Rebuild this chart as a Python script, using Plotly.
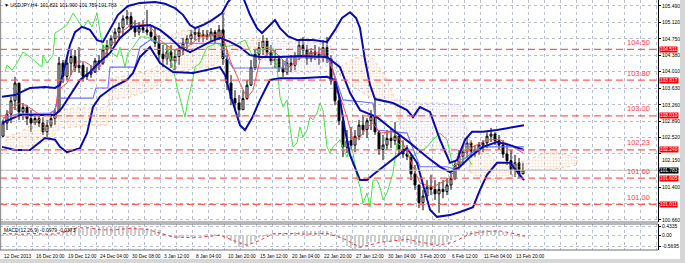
import plotly.graph_objects as go

# ---------------- data ----------------
symbol_title = "▼ USDJPY,H4  101.821 101.900 101.759 101.783"
macd_title = "MACD(12,26,9) -0.0979 -0.0373"

# candles: each entry = two H4 bars
open_ = [102.55,102.85,103.05,103.35,103.75,103.10,103.20,102.95,102.85,102.95,102.85,102.65,102.80,102.95,103.10,104.20,103.90,104.20,104.35,104.10,
         104.15,103.90,103.95,104.00,104.25,104.20,104.50,104.60,104.75,104.90,105.00,105.20,105.25,105.00,104.90,105.00,104.95,104.90,104.80,104.65,
         104.40,104.30,104.45,104.25,104.35,104.50,104.65,104.75,104.85,104.90,104.80,104.85,104.80,104.90,104.75,104.95,104.30,103.75,103.40,103.30,
         103.15,103.40,103.70,104.10,104.40,104.55,104.70,104.45,104.25,104.30,104.10,104.00,104.20,104.15,104.35,104.60,104.50,104.30,104.45,104.40,
         104.35,104.55,104.30,103.80,103.35,102.90,102.30,102.45,102.35,102.55,102.80,102.70,102.90,103.00,102.65,102.25,102.35,102.50,102.45,102.55,
         102.25,102.15,102.10,101.70,101.45,101.05,101.20,101.40,101.35,101.25,101.35,101.30,101.45,101.60,101.90,102.10,102.20,102.40,102.20,102.25,
         102.35,102.40,102.55,102.60,102.45,102.35,102.15,102.00,101.80,101.95,101.70]
high = [102.92,103.14,103.44,103.89,103.59,103.30,103.25,103.14,103.07,103.03,102.98,102.92,103.07,103.18,104.34,104.27,104.34,104.50,104.50,104.56,
        104.22,104.11,104.15,104.32,104.38,104.61,104.72,104.83,104.99,105.12,105.28,105.40,105.35,105.17,105.12,105.17,105.40,105.06,104.99,104.83,
        104.61,104.61,104.61,104.50,104.61,104.77,104.83,104.95,104.99,104.99,104.95,104.95,104.99,104.95,105.06,105.33,104.50,103.93,103.59,103.48,
        103.59,103.82,104.27,104.50,104.68,104.83,104.77,104.61,104.50,104.38,104.27,104.32,104.38,104.45,104.72,104.79,104.61,104.54,104.61,104.56,
        104.72,104.79,104.38,103.82,103.48,103.03,102.69,102.76,102.69,102.92,103.03,102.96,103.14,103.37,102.69,102.58,102.69,102.74,102.87,102.58,
        102.46,102.35,102.13,101.90,101.45,101.34,101.56,101.68,101.56,101.52,101.56,101.61,101.74,102.01,102.24,102.35,102.53,102.46,102.35,102.42,
        102.46,102.64,102.74,102.64,102.58,102.46,102.35,102.24,102.13,102.06,101.95]
low = [102.53,102.69,102.85,103.14,102.92,102.92,102.80,102.65,102.80,102.76,102.58,102.53,102.74,102.80,103.10,103.75,103.82,103.93,104.00,103.98,
       103.78,103.82,103.87,103.98,104.04,104.16,104.32,104.50,104.61,104.72,104.83,105.06,104.95,104.79,104.83,104.88,104.83,104.72,104.56,104.27,
       104.11,104.16,104.09,104.04,104.16,104.38,104.50,104.61,104.72,104.68,104.68,104.72,104.68,104.65,104.72,104.16,103.59,103.25,103.12,102.98,
       103.14,103.37,103.71,104.04,104.27,104.38,104.32,104.16,104.09,104.00,103.89,103.93,104.00,104.04,104.27,104.38,104.16,104.22,104.27,104.16,
       104.22,104.20,103.71,103.25,102.80,102.08,102.17,102.24,102.19,102.46,102.58,102.51,102.69,102.58,102.13,102.01,102.24,102.28,102.35,102.13,
       102.06,102.01,101.56,101.34,100.93,100.88,101.11,101.22,101.11,100.82,101.15,101.22,101.34,101.56,101.79,101.90,102.08,102.06,102.08,102.13,
       102.19,102.28,102.42,102.35,102.24,102.06,101.90,101.68,101.63,101.61,101.72]
close = [102.85,103.05,103.35,103.75,103.10,103.20,102.95,102.85,102.95,102.85,102.65,102.80,102.95,103.10,104.20,103.90,104.20,104.35,104.10,104.15,
         103.90,103.95,104.00,104.25,104.20,104.50,104.60,104.75,104.90,105.00,105.20,105.25,105.00,104.90,105.00,104.95,104.90,104.80,104.65,104.40,
         104.30,104.45,104.25,104.35,104.50,104.65,104.75,104.85,104.90,104.80,104.85,104.80,104.90,104.75,104.95,104.30,103.75,103.40,103.30,103.15,
         103.40,103.70,104.10,104.40,104.55,104.70,104.45,104.25,104.30,104.10,104.00,104.20,104.15,104.35,104.60,104.50,104.30,104.45,104.40,104.35,
         104.55,104.30,103.80,103.35,102.90,102.30,102.45,102.35,102.55,102.80,102.70,102.90,103.00,102.65,102.25,102.35,102.50,102.45,102.55,102.25,
         102.15,102.10,101.70,101.45,101.05,101.20,101.40,101.35,101.25,101.35,101.30,101.45,101.60,101.90,102.10,102.20,102.40,102.20,102.25,102.35,
         102.40,102.55,102.60,102.45,102.35,102.15,102.00,101.80,101.95,101.70,101.783]

# MACD main (histogram), one value per candle entry
macd_hist = [0.08,0.09,0.10,0.10,0.09,0.07,0.05,0.04,0.03,0.03,0.02,0.02,0.03,0.05,0.12,0.20,0.28,0.33,0.36,0.38,
             0.38,0.37,0.37,0.38,0.40,0.42,0.43,0.44,0.45,0.46,0.45,0.44,0.42,0.40,0.38,0.36,0.35,0.33,0.30,0.26,
             0.10,0.00,-0.08,-0.12,-0.15,-0.14,-0.12,-0.10,-0.06,-0.03,0.00,0.02,0.03,0.03,0.02,0.00,-0.15,-0.30,-0.45,-0.58,
             -0.62,-0.58,-0.45,-0.28,-0.15,-0.05,0.03,0.08,0.10,0.10,0.11,0.12,0.13,0.15,0.18,0.20,0.20,0.20,0.21,0.21,
             0.22,0.22,0.15,0.02,-0.15,-0.35,-0.55,-0.65,-0.68,-0.62,-0.52,-0.42,-0.34,-0.32,-0.33,-0.34,-0.33,-0.32,-0.30,-0.31,
             -0.33,-0.36,-0.42,-0.48,-0.54,-0.57,-0.56,-0.53,-0.50,-0.46,-0.40,-0.32,-0.22,-0.10,0.00,0.08,0.15,0.20,0.23,0.25,
             0.27,0.28,0.28,0.26,0.22,0.17,0.10,0.03,-0.03,-0.07,-0.0979]
signal_bar = [1.5,10,16.5,25,31.5,38.5,45,50,56.5,65,73.5,80,86.5,96.5,103.5,110,116.5,123.5,130,136.5,145,153.5,163.5,171.5,180,190,203.5,211.5,218.5,226.5,235,243.5,250,256.5,262.5]
signal_val = [0.10,0.05,0.10,0.05,0.15,0.38,0.38,0.28,0.27,0.35,0.30,0.10,-0.08,-0.12,-0.05,0.0,-0.25,-0.50,-0.25,0.08,0.10,0.06,0.10,-0.15,-0.60,-0.35,-0.20,-0.35,-0.50,-0.35,0.08,0.20,0.22,0.10,-0.0373]

# Bollinger bands (bar index, price)
bb_up_bar = [1,7.5,15,22.5,27.5,30,32.5,35,37.5,41,45,48.5,51.5,55,59,64,70,77.5,82.5,87.5,91.5,95,97.5,101.5,106,111,114,117.5,121.5,125,128.5,131,134,137.5,140,144,148.5,156.5,163.5,167.5,171,175,178,180,182.5,185,187.5,196.5,203.5,206.5,210,215,220,225,228.5,232.5,236,241.5,248.5,256.5,262]
bb_up = [103.44,103.48,103.64,103.66,103.64,103.71,104.16,104.61,104.90,105.02,104.95,104.72,104.68,104.95,105.29,105.49,105.56,105.58,105.54,105.44,105.29,105.06,104.99,105.06,105.17,105.33,105.58,105.76,105.69,105.29,104.99,104.88,105.02,105.17,104.99,104.81,104.72,104.72,104.68,104.95,105.22,105.35,105.22,104.99,104.27,103.71,103.39,103.30,103.14,102.98,103.21,103.10,102.47,101.95,102.01,102.47,102.65,102.65,102.69,102.76,102.80]
bb_mid_bar = [1,10,20,27.5,31,35,40,45,50,55,60,66.5,75,80,85,90,95,100,105,110,115,120,125,130,140,150,163.5,170,175,180,188.5,196.5,205,213.5,220,225,230,235,241.5,248.5,255,262]
bb_mid = [102.85,103.03,103.03,103.03,103.19,103.48,103.82,104.00,104.23,104.43,104.77,105.02,105.06,104.95,104.77,104.56,104.45,104.56,104.68,104.77,104.68,104.56,104.38,104.34,104.34,104.36,104.34,104.11,103.53,103.14,102.98,102.69,102.40,102.08,101.86,101.74,101.86,102.08,102.31,102.42,102.35,102.24]
bb_low_bar = [1,7.5,15,22.5,27.5,30,33.5,40,43.5,46.5,50,56.5,63.5,66.5,70,75,80,86.5,96.5,103.5,110,112.5,116,120,122.5,126,130,135,140,150,163.5,167.5,170,172.5,175,180,183.5,186.5,195,203.5,208.5,211.5,215,218.5,225,230,236.5,240,243.5,248.5,255,262]
bb_low = [102.31,102.24,102.24,102.51,102.47,102.31,102.19,102.28,102.62,103.21,103.44,103.66,103.82,103.98,104.34,104.56,104.20,104.00,103.98,104.04,104.11,103.93,103.37,102.80,102.69,102.96,103.37,103.82,103.86,103.86,103.89,103.82,103.37,102.69,102.13,101.56,101.56,101.68,101.97,102.28,101.95,101.45,100.89,100.73,100.77,100.84,100.95,101.34,101.68,101.95,101.95,101.56]

# Ichimoku: tenkan (red), kijun (light blue), chikou (green)
tenkan_bar = [1.5,5,10,15,20,25,27.5,29,33.5,38.5,42.5,46.5,50,53.5,56.5,60,66.5,73.5,76.5,80,86.5,93.5,100,106.5,111,115,120,123.5,126.5,130,136.5,140,145,148.5,155,161.5,165,168.5,173.5,176.5,180,183.5,186.5,190,196.5,201.5,206.5,210,216.5,220,223.5,226.5,230,236.5,243.5,250,256.5,261.5]
tenkan = [102.92,103.14,103.30,103.19,103.03,103.03,103.07,103.59,103.75,104.23,104.23,104.11,104.11,104.50,104.65,104.88,105.10,105.06,104.95,104.72,104.50,104.56,104.79,104.83,104.88,104.27,103.75,103.41,103.59,104.27,104.50,104.34,104.11,104.27,104.43,104.43,104.27,103.66,102.98,102.47,102.53,102.76,102.85,102.62,102.65,102.40,101.86,101.49,101.40,101.49,101.56,101.72,102.08,102.31,102.47,102.47,102.31,102.17]
kijun_bar = [1.5,10,25,27.5,29,46.5,48,54,55,67.5,70,75,80,110,112.5,116.5,141.5,143.5,163.5,166.5,171.5,186.5,188.5,203.5,210,223.5,228.5,231.5,240,262]
kijun = [102.96,103.07,103.07,103.14,103.41,103.41,103.64,103.64,104.11,104.11,104.56,104.72,104.65,104.65,104.38,104.09,104.09,104.32,104.32,104.04,103.37,103.30,102.69,102.62,101.86,101.86,101.79,102.01,102.31,102.31]
chikou_bar = [2.5,3.5,6,8.5,11.5,15,18.5,21,21.5,23.5,26.5,27.5,30,33.5,36.5,39,41.5,44,46,48.5,50,51.5,53.5,56,58.5,60,62.5,64,66.5,70,73.5,76.5,80,83.5,86.5,88.5,91,92.5,94,96,97.5,100,103.5,108.5,111,117.5,122.5,126,130,133.5,136.5,138.5,140,141.5,143.5,145,146.5,148.5,150,151.5,153.5,155,156.5,158.5,160,161.5,163.5,165,166.5,170,173.5,175,176.5,178.5,180,181.5,183.5,185,186.5,188.5,190,191.5,193.5,196.5,198.5,201.5,205,210,213.5,216.5,220,223.5,225,226.5,230,233.5,236]
chikou = [104.00,104.16,104.04,104.20,104.45,104.34,104.20,104.11,104.38,104.20,104.38,104.88,104.95,105.06,105.33,105.17,104.99,105.17,105.02,105.33,104.88,104.50,104.65,104.43,104.34,104.56,104.11,104.43,104.56,104.79,104.79,104.72,104.65,104.61,104.11,103.66,103.21,102.98,103.37,103.75,104.11,104.20,104.56,104.65,104.56,104.61,104.72,104.38,104.50,104.56,104.54,104.11,103.44,103.21,103.37,102.76,102.31,102.40,102.76,102.53,102.69,102.98,102.92,103.07,103.30,103.14,102.31,102.17,102.31,102.47,102.08,102.31,102.17,101.63,101.40,101.04,101.27,100.95,101.56,101.56,101.40,101.11,101.27,101.72,102.40,102.31,102.08,102.19,102.31,102.47,102.62,102.47,102.17,101.86,102.01,102.08,101.90]

# Ichimoku cloud (bar index, upper edge, lower edge, colour kind: o = sandy brown, t = thistle)
cloud_bar = [3,10,17.5,25,30,37.5,45,54,55,65,75,82.5,86,92.5,100,107.5,112.5,120,127.5,132.5,145,155,165,170,177.5,185,192.5,197.5,200,210,220,230,235,240,247.5,255,263.5,272.5,280,288.5]
cloud_hi = [102.53,102.64,102.85,103.10,103.14,103.19,103.19,103.21,103.86,103.93,104.04,104.23,104.84,104.95,104.90,104.77,104.72,104.68,104.72,104.72,104.68,104.68,104.61,104.11,104.32,104.38,103.93,103.37,103.37,103.30,103.30,103.26,102.47,102.24,102.01,101.90,102.01,102.17,102.17,102.06]
cloud_lo = [102.28,102.31,102.35,102.47,102.74,102.76,102.80,102.80,103.37,103.44,103.59,103.82,103.93,104.04,104.09,104.16,104.38,104.50,104.56,104.27,103.98,103.98,104.16,103.93,103.64,103.44,103.37,103.26,102.80,102.35,102.24,102.01,101.74,101.61,101.56,101.61,101.79,101.79,101.83,101.90]
cloud_kind = ["o"]*19 + ["t"]*4 + ["o"]*5 + ["t"]*4 + ["o"]*8

# horizontal levels and axis labels
level_vals = [104.511, 103.817, 103.010, 102.240, 101.605, 101.011]
level_text = ["104.50", "103.80", "103.00", "102.23", "101.60", "101.00"]
last_price = 101.783
price_ticks = [105.490,105.120,104.750,104.380,104.010,103.630,103.260,102.890,102.520,102.150,101.780,101.400,101.030,100.660]
hidden_ticks = [102.150, 101.780, 101.030]   # labels covered by the price boxes
macd_ticks = [0.4335, 0.0, -0.5695]
macd_tick_text = ["0.4335", "0.00", "-0.5695"]
date_labels = ["12 Dec 2013","16 Dec 20:00","19 Dec 12:00","24 Dec 04:00","30 Dec 08:00","3 Jan 12:00","8 Jan 04:00",
               "10 Jan 20:00","15 Jan 12:00","20 Jan 04:00","22 Jan 20:00","27 Jan 12:00","30 Jan 04:00","3 Feb 20:00",
               "6 Feb 12:00","11 Feb 04:00","13 Feb 20:00"]
date_label_bars = [16 * i for i in range(len(date_labels))]

# ---------------- figure ----------------
W, H = 685, 263
ML, MR, MT, MB = 0, 27, 0, 12
PH = H - MT - MB
main_dom = [(PH - 222) / PH, 1.0]
macd_dom = [(PH - 250) / PH, (PH - 224) / PH]
FONT = "Liberation Sans, Arial, sans-serif"

candle_bar = [1.5 + 2 * k for k in range(len(close))]

fig = go.Figure()

# cloud pieces
runs = []
start = 0
for i in range(1, len(cloud_kind) + 1):
    if i == len(cloud_kind) or cloud_kind[i] != cloud_kind[start]:
        runs.append((start, min(i + 1, len(cloud_kind)), cloud_kind[start]))
        start = i
for a, b, kind in runs:
    col = "#f7b98a" if kind == "o" else "#cfc0dc"
    xs = cloud_bar[a:b]
    if len(xs) < 2:
        continue
    px = xs + xs[::-1] + [xs[0]]
    py = cloud_hi[a:b] + cloud_lo[a:b][::-1] + [cloud_hi[a]]
    fig.add_trace(go.Scatter(x=px, y=py, mode="lines", fill="toself",
                             fillcolor="rgba(0,0,0,0)",
                             fillpattern=dict(shape=".", fgcolor=col, bgcolor="rgba(255,255,255,0)", size=3, solidity=0.3),
                             line=dict(color=col, width=0.8, dash="dot"),
                             hoverinfo="skip", xaxis="x", yaxis="y"))

fig.add_trace(go.Candlestick(x=candle_bar, open=open_, high=high, low=low, close=close,
                             increasing=dict(line=dict(color="#000000", width=1), fillcolor="#ffffff"),
                             decreasing=dict(line=dict(color="#000000", width=1), fillcolor="#000000"),
                             whiskerwidth=0, xaxis="x", yaxis="y", hoverinfo="skip"))

def add_line(xv, yv, color, width, dash="solid"):
    fig.add_trace(go.Scatter(x=xv, y=yv, mode="lines", line=dict(color=color, width=width, dash=dash),
                             hoverinfo="skip", xaxis="x", yaxis="y"))

add_line(chikou_bar, chikou, "#3ee83e", 1)
add_line(kijun_bar, kijun, "#6f6fff", 1.1)
add_line(tenkan_bar, tenkan, "#ff4a4a", 1)
add_line(bb_up_bar, bb_up, "#0a0ab4", 2)
add_line(bb_mid_bar, bb_mid, "#0a0ab4", 2)
add_line(bb_low_bar, bb_low, "#0a0ab4", 2)

# MACD
fig.add_trace(go.Bar(x=candle_bar, y=macd_hist, width=0.9, marker=dict(color="#cdcdcd", line=dict(width=0)),
                     xaxis="x2", yaxis="y2", hoverinfo="skip"))
fig.add_trace(go.Scatter(x=signal_bar, y=signal_val, mode="lines", line=dict(color="#ff3030", width=1, dash="dot"),
                         xaxis="x2", yaxis="y2", hoverinfo="skip"))

grid = dict(showgrid=True, gridcolor="#b9bfcc", griddash="dot", gridwidth=1)
xr = [0, 329]
fig.update_layout(
    width=W, height=H, margin=dict(l=ML, r=MR, t=MT, b=MB),
    paper_bgcolor="white", plot_bgcolor="white", showlegend=False,
    xaxis=dict(domain=[0, 1], range=xr, anchor="y", showticklabels=False, tickvals=list(range(0, 330, 8)),
               zeroline=False, rangeslider=dict(visible=False), **grid),
    xaxis2=dict(domain=[0, 1], range=xr, anchor="y2", matches="x", showticklabels=False,
                tickvals=list(range(0, 330, 8)), zeroline=False, **grid),
    yaxis=dict(domain=main_dom, range=[100.614, 105.625], side="right", anchor="x",
               tickvals=price_ticks, ticktext=["" if v in hidden_ticks else "%.3f" % v for v in price_ticks],
               tickfont=dict(size=5, color="#000000", family=FONT), ticks="outside", ticklen=2, tickcolor="#000",
               showline=True, linecolor="#000000", linewidth=1, zeroline=False, **grid),
    yaxis2=dict(domain=macd_dom, range=[-0.735, 0.57], side="right", anchor="x2",
                tickvals=macd_ticks, ticktext=macd_tick_text,
                tickfont=dict(size=5, color="#000000", family=FONT), ticks="outside", ticklen=2, tickcolor="#000",
                showline=True, linecolor="#000000", linewidth=1, zeroline=False, **grid),
    bargap=0,
)

shapes = []
for v in level_vals:
    shapes.append(dict(type="line", xref="x domain", x0=0, x1=1, yref="y", y0=v, y1=v,
                       line=dict(color="#ff5c5c", width=1.3, dash="7px,4px")))
shapes.append(dict(type="line", xref="x domain", x0=0, x1=1, yref="y", y0=last_price, y1=last_price,
                   line=dict(color="#c4c4c4", width=1)))
for yy in [main_dom[0], macd_dom[1], macd_dom[0]]:
    shapes.append(dict(type="line", xref="paper", x0=0, x1=1, yref="paper", y0=yy, y1=yy,
                       line=dict(color="#707070", width=1)))
shapes.append(dict(type="line", xref="paper", x0=0.001, x1=0.001, yref="paper", y0=macd_dom[0], y1=1,
                   line=dict(color="#808080", width=1)))
# window chrome strips
shapes.append(dict(type="rect", xref="paper", x0=680 / 658, x1=690 / 658, yref="paper", y0=-20 / PH, y1=1.01,
                   fillcolor="#d6d6d6", line=dict(width=0), layer="above"))
shapes.append(dict(type="rect", xref="paper", x0=-0.01, x1=1.05, yref="paper", y0=(PH - 259) / PH, y1=(PH - 266) / PH,
                   fillcolor="#d6d6d6", line=dict(width=0), layer="above"))
fig.update_layout(shapes=shapes)

ann = []
for v, t in zip(level_vals, level_text):
    ann.append(dict(x=652 / 658, xref="paper", y=v, yref="y", text=t, showarrow=False, xanchor="right",
                    yanchor="bottom", yshift=0.5, font=dict(size=7.5, color="#ff4040", family=FONT)))
    ann.append(dict(x=1, xref="paper", y=v, yref="y", text="%.3f" % v, showarrow=False, xanchor="left", xshift=1,
                    yanchor="middle", bgcolor="#ff0000", borderpad=0, font=dict(size=4.8, color="#ffffff", family=FONT)))
ann.append(dict(x=1, xref="paper", y=last_price, yref="y", text="%.3f" % last_price, showarrow=False, xanchor="left",
                xshift=1, yanchor="middle", bgcolor="#000000", borderpad=0, font=dict(size=4.8, color="#ffffff", family=FONT)))
# partially covered tick label just below the 102.240 box
ann.append(dict(x=1, xref="paper", y=102.150, yref="y", text="102.150", showarrow=False, xanchor="left", xshift=2,
                yanchor="top", yshift=-1.5, font=dict(size=5, color="#000000", family=FONT)))
ann.append(dict(x=0, xref="paper", y=1, yref="paper", text=symbol_title, showarrow=False, xanchor="left", xshift=2,
                yanchor="top", yshift=0, font=dict(size=5, color="#000000", family=FONT)))
ann.append(dict(x=0, xref="paper", y=macd_dom[1], yref="paper", text=macd_title, showarrow=False, xanchor="left", xshift=2,
                yanchor="top", yshift=-1, font=dict(size=5, color="#000000", family=FONT)))
for b, t in zip(date_label_bars, date_labels):
    ann.append(dict(x=b, xref="x2", y=(PH - 256) / PH, yref="paper", text=t, showarrow=False, xanchor="left", xshift=2,
                    yanchor="middle", font=dict(size=4.8, color="#000000", family=FONT)))
fig.update_layout(annotations=ann)

fig.write_html("out.html")
